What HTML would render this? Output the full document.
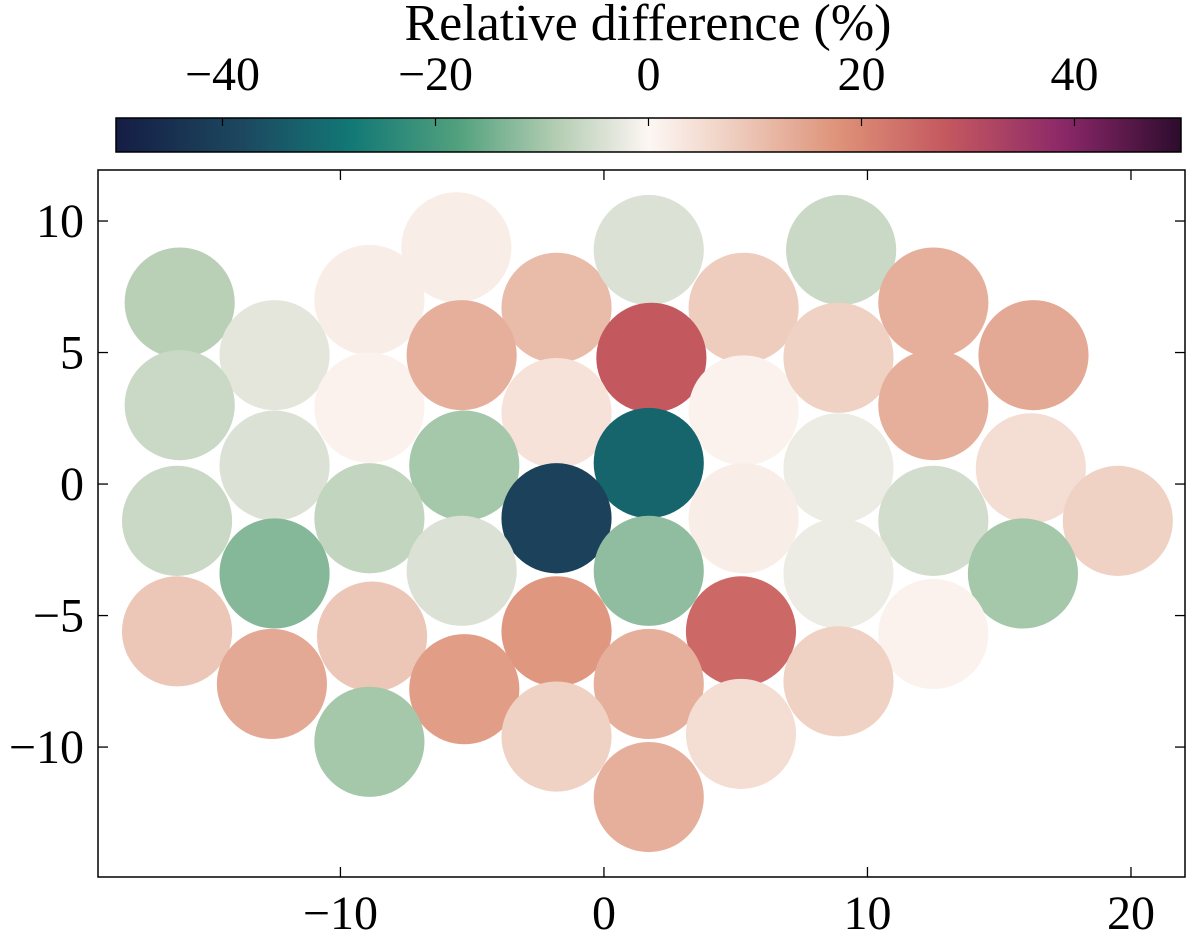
<!DOCTYPE html>
<html><head><meta charset="utf-8"><style>
body{margin:0;background:#fff;}
svg{display:block;font-family:"Liberation Serif",serif;}
</style></head><body>
<svg id="chart" width="1200" height="936" viewBox="0 0 1200 936" xmlns="http://www.w3.org/2000/svg">
<defs><linearGradient id="cb" x1="0" x2="1" y1="0" y2="0"></linearGradient></defs>
<g id="circles"></g>
<g id="axes"></g>
<g id="colorbar"></g>
</svg>
<script>
const xs=[-16.1,-12.5,-8.9,-5.6,-1.8,1.7,5.3,9.0,12.5,16.3,-16.1,-8.9,-5.4,1.8,-1.8,5.3,8.9,12.5,-12.5,-5.3,1.7,8.9,16.2,-16.2,-8.9,-1.8,5.3,12.5,19.5,-12.5,-5.4,1.7,8.9,15.9,-16.2,-8.8,-1.8,5.2,12.5,-12.6,-5.3,1.7,8.9,-8.9,-1.8,5.2,1.7];
const ys=[6.9,4.9,7.0,9.0,6.7,8.9,6.7,8.9,6.9,4.9,3.0,2.9,4.9,4.8,2.7,2.8,4.8,3.0,0.7,0.7,0.8,0.6,0.6,-1.4,-1.3,-1.3,-1.3,-1.4,-1.4,-3.4,-3.3,-3.3,-3.4,-3.4,-5.6,-5.8,-5.6,-5.6,-5.7,-7.6,-7.8,-7.6,-7.5,-9.8,-9.6,-9.5,-11.9];
const vals=[-8,-3,2,2,11,-4,8,-6,13,14,-6,1,13,28,4,1,7,13,-4,-10,-32,-2,5,-6,-7,-40,2,-5,7,-13,-4,-12,-2,-10,9,9,17,25,1,14,16,13,7,-10,7,5,13];
const xTicks=[-10,0,10,20];
const yTicks=[10,5,0,-5,-10];
const cbTicks=[-40,-20,0,20,40];
const NS="http://www.w3.org/2000/svg";
const L=98,R=1185,T=170,B=877;
const X0=-19.2,X1=22.05,Y0=-14.94,Y1=11.94;
const sx=v=>L+(v-X0)/(X1-X0)*(R-L);
const sy=v=>B-(v-Y0)/(Y1-Y0)*(B-T);
const stops=[[-50,[21,29,68]],[-38,[28,72,95]],[-28,[18,120,118]],[-18,[80,160,125]],[-9,[176,204,176]],[-3,[228,230,220]],[0,[253,247,244]],[8,[238,205,190]],[18,[222,145,120]],[28,[196,88,95]],[39,[140,40,105]],[50,[45,12,45]]];
function cmap(v){v=Math.max(-50,Math.min(50,v));for(let i=0;i<stops.length-1;i++){const a=stops[i],b=stops[i+1];if(v<=b[0]){const t=(v-a[0])/(b[0]-a[0]);const c=a[1].map((x,k)=>Math.round(x+(b[1][k]-x)*t));return `rgb(${c})`;}}return 'rgb(45,12,45)';}
function mk(tag,attrs,parent){const e=document.createElementNS(NS,tag);for(const k in attrs)e.setAttribute(k,attrs[k]);parent.appendChild(e);return e;}
const cg=document.getElementById('circles');
const rpx=2.09*(R-L)/(X1-X0);
xs.forEach((x,i)=>{const c=mk('circle',{cx:sx(x),cy:sy(ys[i]),r:rpx,fill:cmap(vals[i])},cg);

});
const ag=document.getElementById('axes');
const fr=mk('rect',{x:L,y:T,width:R-L,height:B-T,fill:'none',stroke:'#000','stroke-width':1.5},ag);


xTicks.forEach(t=>{const x=sx(t);mk('line',{x1:x,x2:x,y1:B,y2:B-10,stroke:'#000','stroke-width':1.3},ag);mk('line',{x1:x,x2:x,y1:T,y2:T+10,stroke:'#000','stroke-width':1.3},ag);
const tx=mk('text',{x:x,y:B+52,'font-size':48,'text-anchor':'middle'},ag);tx.textContent=t<0?'\u2212'+(-t):t;

});
yTicks.forEach(t=>{const y=sy(t);mk('line',{x1:L,x2:L+10,y1:y,y2:y,stroke:'#000','stroke-width':1.3},ag);mk('line',{x1:R,x2:R-10,y1:y,y2:y,stroke:'#000','stroke-width':1.3},ag);
const tx=mk('text',{x:L-14,y:y+16,'font-size':48,'text-anchor':'end'},ag);tx.textContent=t<0?'\u2212'+(-t):t;

});
const grad=document.getElementById('cb');
for(let v=-50;v<=50;v+=2){mk('stop',{offset:((v+50)/100).toFixed(3),'stop-color':cmap(v)},grad);}
const bg=document.getElementById('colorbar');
const CL=116,CR=1181,CT=118,CB=152;
const cb=mk('rect',{x:CL,y:CT,width:CR-CL,height:CB-CT,fill:'url(#cb)',stroke:'#000','stroke-width':1.5},bg);


const cx=v=>CL+(v+50)/100*(CR-CL);
cbTicks.forEach(t=>{const x=cx(t);mk('line',{x1:x,x2:x,y1:CT,y2:CT+8,stroke:'#000','stroke-width':1.2},bg);
const tx=mk('text',{x:x,y:CT-28,'font-size':48,'text-anchor':'middle'},bg);tx.textContent=t<0?'\u2212'+(-t):t;

});
const title=mk('text',{x:648,y:40,'font-size':52,'text-anchor':'middle'},bg);title.textContent='Relative difference (%)';


</script>
</body></html>
